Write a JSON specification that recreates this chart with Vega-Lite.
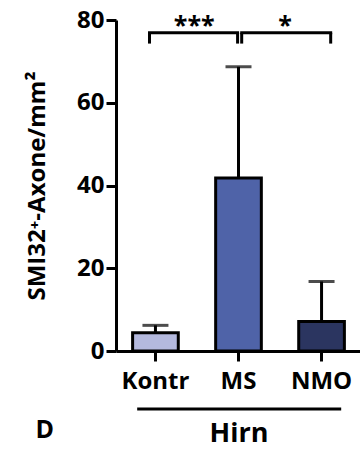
{
  "$schema": "https://vega.github.io/schema/vega-lite/v6.json",
  "width": 245,
  "height": 331,
  "autosize": {"type": "none"},
  "padding": {"left": 116, "top": 20, "right": 0, "bottom": 99},
  "background": "white",
  "title": {"text": "D", "orient": "bottom", "anchor": "start", "frame": "bounds", "font": "Open Sans", "fontSize": 25, "fontWeight": "bold", "color": "black", "offset": 0, "dx": 10, "dy": -28},
  "datasets": {
    "main": [
      {"group": "Kontr", "mean": 4.4, "upper": 6.2},
      {"group": "MS", "mean": 41.8, "upper": 68.7},
      {"group": "NMO", "mean": 7.1, "upper": 16.8}
    ],
    "sig": [
      {"a": "Kontr", "b": "MS", "label": "***"},
      {"a": "MS", "b": "NMO", "label": "*"}
    ]
  },
  "config": {
    "view": {"stroke": null},
    "axis": {
      "domainColor": "black", "domainWidth": 3, "tickColor": "black", "tickWidth": 3, "tickSize": 10,
      "labelFont": "Open Sans", "labelFontWeight": "bold", "labelFontSize": 24, "labelColor": "black",
      "titleFont": "Open Sans", "titleFontWeight": "bold", "titleColor": "black", "grid": false
    }
  },
  "layer": [
    {
      "data": {"name": "main"},
      "mark": {"type": "bar", "stroke": "black", "strokeWidth": 3},
      "encoding": {
        "x": {"field": "group", "type": "nominal", "sort": ["Kontr", "MS", "NMO"],
              "scale": {"paddingInner": 0.45, "paddingOuter": 0.2},
              "axis": {"title": "Hirn", "titleFontSize": 27, "titlePadding": 27, "labelAngle": 0, "labelPadding": 8, "labelDx": 5}},
        "y": {"field": "mean", "type": "quantitative", "scale": {"domain": [0, 80], "nice": false},
              "axis": {"title": "SMI32⁺-Axone/mm²", "titleFontSize": 24, "titlePadding": 27, "values": [0, 20, 40, 60, 80], "labelPadding": 2}},
        "color": {"field": "group", "type": "nominal",
                  "scale": {"domain": ["Kontr", "MS", "NMO"], "range": ["#b4b9de", "#4f63a8", "#2b3560"]}, "legend": null}
      }
    },
    {
      "data": {"name": "main"},
      "mark": {"type": "rule", "color": "black", "strokeWidth": 3},
      "encoding": {
        "x": {"field": "group", "type": "nominal", "sort": ["Kontr", "MS", "NMO"]},
        "y": {"field": "mean", "type": "quantitative"},
        "y2": {"field": "upper"}
      }
    },
    {
      "data": {"name": "main"},
      "mark": {"type": "tick", "color": "black", "thickness": 3, "size": 26},
      "encoding": {
        "x": {"field": "group", "type": "nominal", "sort": ["Kontr", "MS", "NMO"]},
        "y": {"field": "upper", "type": "quantitative"}
      }
    },
    {
      "data": {"name": "sig"},
      "transform": [{"filter": "datum.label === '***'"}],
      "layer": [
        {"mark": {"type": "rule", "color": "black", "strokeWidth": 3, "strokeCap": "square"},
         "encoding": {"x": {"field": "a", "type": "nominal", "bandPosition": 0.37}, "x2": {"field": "b", "bandPosition": 0.48}, "y": {"datum": 76.9}}},
        {"mark": {"type": "rule", "color": "black", "strokeWidth": 3},
         "encoding": {"x": {"field": "a", "type": "nominal", "bandPosition": 0.37}, "y": {"datum": 74.3}, "y2": {"datum": 76.9}}},
        {"mark": {"type": "rule", "color": "black", "strokeWidth": 3},
         "encoding": {"x": {"field": "b", "type": "nominal", "bandPosition": 0.48}, "y": {"datum": 74.3}, "y2": {"datum": 76.9}}},
        {"mark": {"type": "text", "font": "Open Sans", "fontWeight": "bold", "fontSize": 25, "baseline": "middle", "color": "black"},
         "encoding": {"x": {"field": "a", "type": "nominal", "bandPosition": 1.35}, "y": {"datum": 78.5}, "text": {"field": "label"}}}
      ]
    },
    {
      "data": {"name": "sig"},
      "transform": [{"filter": "datum.label === '*'"}],
      "layer": [
        {"mark": {"type": "rule", "color": "black", "strokeWidth": 3, "strokeCap": "square"},
         "encoding": {"x": {"field": "a", "type": "nominal", "bandPosition": 0.57}, "x2": {"field": "b", "bandPosition": 0.70}, "y": {"datum": 76.9}}},
        {"mark": {"type": "rule", "color": "black", "strokeWidth": 3},
         "encoding": {"x": {"field": "a", "type": "nominal", "bandPosition": 0.57}, "y": {"datum": 74.3}, "y2": {"datum": 76.9}}},
        {"mark": {"type": "rule", "color": "black", "strokeWidth": 3},
         "encoding": {"x": {"field": "b", "type": "nominal", "bandPosition": 0.70}, "y": {"datum": 74.3}, "y2": {"datum": 76.9}}},
        {"mark": {"type": "text", "font": "Open Sans", "fontWeight": "bold", "fontSize": 25, "baseline": "middle", "color": "black"},
         "encoding": {"x": {"field": "a", "type": "nominal", "bandPosition": 1.52}, "y": {"datum": 78.5}, "text": {"field": "label"}}}
      ]
    },
    {
      "data": {"values": [{"from": "Kontr", "to": "NMO"}]},
      "mark": {"type": "rule", "color": "black", "strokeWidth": 3},
      "encoding": {
        "x": {"field": "from", "type": "nominal", "bandPosition": 0.1},
        "x2": {"field": "to", "bandPosition": 0.93},
        "y": {"datum": -14}
      }
    }
  ]
}
